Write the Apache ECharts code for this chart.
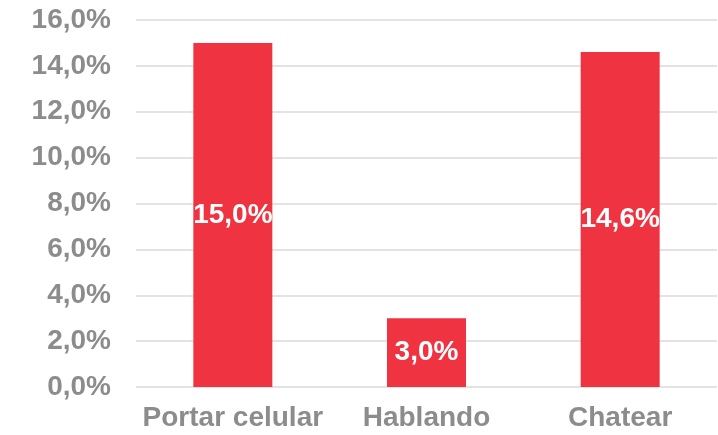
<!DOCTYPE html>
<html>
<head>
<meta charset="utf-8">
<script src="https://cdn.jsdelivr.net/npm/echarts@6/dist/echarts.min.js"></script>
<style>
	html,body{margin:0;padding:0;background:#fff;}
	#chart{width:718px;height:435px;}
</style>
</head>
<body>
<div id="chart"></div>
<script>
var categories = ['Portar celular','Hablando','Chatear'];
var values = [15.0, 3.0, 14.6];

var BAR_COLOR = '#EF3341';
var TEXT_GRAY = '#8C8C8C';

function fmtPct(v){
	return v.toFixed(1).replace('.', ',') + '%';
}

var myChart = echarts.init(document.getElementById('chart'));
myChart.setOption({
	animation:false,
	grid:{
		left:136,
		right:1,
		top:20,
		bottom:48
	},
	xAxis:{
		type:'category',
		data:categories,
		axisTick:{show:false},
		axisLine:{show:false},
		axisLabel:{
			interval:0,
			color:TEXT_GRAY,
			fontFamily:'Liberation Sans',
			fontWeight:'bold',
			fontSize:28,
			margin:17
		}
	},
	yAxis:{
		type:'value',
		min:0,
		max:16,
		interval:2,
		axisTick:{show:false},
		axisLine:{show:false},
		axisLabel:{
			color:TEXT_GRAY,
			fontFamily:'Liberation Sans',
			fontWeight:'bold',
			fontSize:28,
			margin:25,
			formatter:function(v){ return fmtPct(v); }
		},
		splitLine:{
			lineStyle:{color:'#E3E3E3', width:2}
		}
	},
	series:[
		{
			type:'bar',
			data:values,
			barWidth:79,
			itemStyle:{color:BAR_COLOR},
			label:{
				show:true,
				position:'inside',
				color:'#FFFFFF',
				fontFamily:'Liberation Sans',
				fontWeight:'bold',
				fontSize:28,
				formatter:function(p){ return fmtPct(p.value); }
			}
		}
	]
});
</script>
</body>
</html>
